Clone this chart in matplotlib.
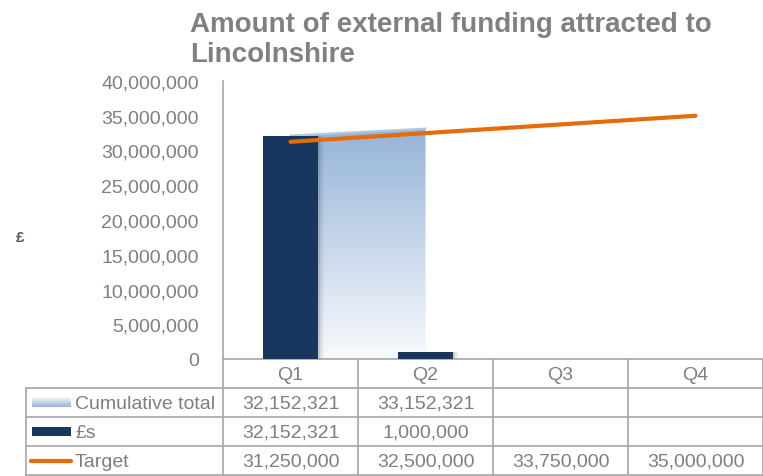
import numpy as np
import matplotlib.pyplot as plt
from matplotlib import transforms
from matplotlib.colors import LinearSegmentedColormap
from matplotlib.patches import Rectangle

# data
quarters = ['Q1', 'Q2', 'Q3', 'Q4']
cumulative = [32152321, 33152321]
pounds = [32152321, 1000000]
target = [31250000, 32500000, 33750000, 35000000]
yticks = np.arange(0, 40000001, 5000000)
row_names = ['Cumulative total', '£s', 'Target']

navy = '#17375e'
orange = '#e46c0a'
light = '#95b3d7'
txt = '#7f7f7f'
grid = '#a6a6a6'

plt.rcParams['font.family'] = ['Liberation Sans', 'DejaVu Sans']

W, H = 763, 477
fig = plt.figure(figsize=(W / 100, H / 100), dpi=100)

# main plot area
ax = fig.add_axes([223 / W, 1 - 360 / H, (763 - 223) / W, (360 - 82) / H])
x = np.arange(len(quarters))

# cumulative total as gradient area
xc = x[:len(cumulative)]
poly = ax.fill_between(xc, cumulative, 0, color='none', lw=0)
grad = np.linspace(0, 1, 256).reshape(-1, 1)
cmap = LinearSegmentedColormap.from_list('g', ['#f8fafd', light])
im = ax.imshow(grad, cmap=cmap, aspect='auto', origin='lower',
               extent=[xc[0], xc[-1], 0, max(cumulative)], zorder=1)
im.set_clip_path(poly.get_paths()[0], transform=ax.transData)
ax.plot(xc, cumulative, color='#b3c8e2', lw=1.5, zorder=1)

# bars with soft shadow
bw = 0.41
for off, a in [(0.045, 0.05), (0.03, 0.08), (0.015, 0.12)]:
    ax.bar(x[:len(pounds)] + off, pounds, width=bw, color='#303030', alpha=a,
           zorder=2, lw=0)
ax.bar(x[:len(pounds)], pounds, width=bw, color=navy, zorder=3, lw=0)

# target line
ax.plot(x, target, color=orange, lw=3, zorder=4, solid_capstyle='round')

ax.set_xlim(-0.5, 3.5)
ax.set_ylim(0, 40e6)
ax.set_yticks(yticks)
ax.set_yticklabels([f'{v:,}' for v in yticks])
ax.tick_params(axis='y', left=False, labelsize=14, labelcolor=txt, pad=14)
ax.tick_params(axis='x', bottom=False, labelbottom=False)
for s in ['top', 'right']:
    ax.spines[s].set_visible(False)
for s in ['left', 'bottom']:
    ax.spines[s].set_color(grid)
    ax.spines[s].set_linewidth(1.2)

# data table under the chart
tab = fig.add_axes([0, 0, 1, 1], zorder=-1)
tab.set_xlim(0, W)
tab.set_ylim(H, 0)
tab.axis('off')
bt = transforms.blended_transform_factory(ax.transData, tab.transData)

row_lines = [360, 389, 418, 447, 476]
row_mid = [(a + b) / 2 for a, b in zip(row_lines[:-1], row_lines[1:])]
for y in row_lines[1:]:
    tab.plot([26, W], [y, y], color=grid, lw=1.2)
tab.plot([26, 26], [row_lines[1], row_lines[-1]], color=grid, lw=1.2)
for k in range(len(quarters) + 1):
    tab.plot([k - 0.5, k - 0.5], [row_lines[0], row_lines[-1]], color=grid,
             lw=1.2, transform=bt)

for i, q in enumerate(quarters):
    tab.text(i, row_mid[0] + 1, q, transform=bt, ha='center', va='center',
             fontsize=14, color=txt)
for r, vals in enumerate([cumulative, pounds, target]):
    for i, v in enumerate(vals):
        tab.text(i, row_mid[r + 1] + 1, f'{v:,}', transform=bt, ha='center',
                 va='center', fontsize=14, color=txt)
    tab.text(75, row_mid[r + 1] + 1, row_names[r], ha='left', va='center',
             fontsize=14, color=txt)

# legend keys
tab.imshow(grad[::-1], cmap=cmap, aspect='auto', origin='lower',
           extent=[32, 71, row_mid[1] + 5, row_mid[1] - 5])
tab.add_patch(Rectangle((32, row_mid[2] - 4.5), 39, 9, color=navy, lw=0))
tab.plot([31, 71], [row_mid[3], row_mid[3]], color=orange, lw=3,
         solid_capstyle='round')
tab.set_xlim(0, W)
tab.set_ylim(H, 0)

# titles
fig.text(190 / W, 1 - 32 / H, 'Amount of external funding attracted to',
         ha='left', va='baseline', fontsize=20, fontweight='bold',
         color='#808080')
fig.text(190 / W, 1 - 62 / H, 'Lincolnshire',
         ha='left', va='baseline', fontsize=20, fontweight='bold',
         color='#808080')
fig.text(20 / W, 1 - 238 / H, '£', ha='center', va='center', fontsize=11,
         fontweight='bold', color='#595959')

fig.savefig('out.png', dpi=100)
